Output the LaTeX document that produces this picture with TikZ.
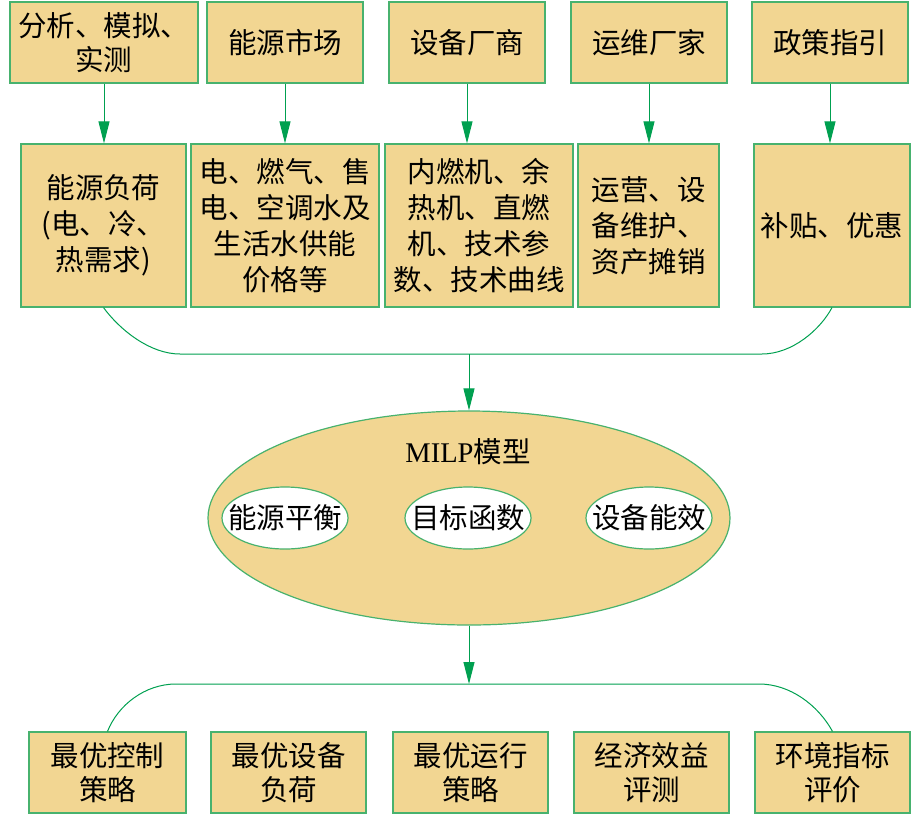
\documentclass[tikz,border=0pt]{standalone}
\usepackage{fontspec}
\setmainfont{Noto Sans CJK SC}
\newfontfamily\latf{Liberation Serif}
\usetikzlibrary{arrows.meta,shapes.geometric}
\definecolor{boxfill}{RGB}{242,214,146}
\definecolor{boxline}{RGB}{72,178,110}
\definecolor{arrowc}{RGB}{0,160,80}
\begin{document}
\begin{tikzpicture}[x=1pt,y=-1pt,
  box/.style={draw=boxline, fill=boxfill, line width=1.2pt, inner sep=0pt, align=center,
    font=\fontsize{28.5}{34}\selectfont, minimum height=81pt},
  midbox/.style={box, minimum height=163pt, font=\fontsize{28.5}{36}\selectfont},
  conn/.style={draw=arrowc, line width=1pt, -{Triangle[length=22pt,width=11pt]}},
  link/.style={draw=arrowc, line width=1pt},
  bigell/.style={ellipse, draw=boxline, fill=boxfill, line width=1.2pt, minimum width=522pt, minimum height=214pt, inner sep=0pt},
  smallell/.style={ellipse, draw=boxline, fill=white, line width=1.2pt, minimum width=126pt, minimum height=62pt, inner sep=0pt},
  elltext/.style={inner sep=0pt, font=\fontsize{28.5}{34}\selectfont}
]
\useasboundingbox (0,0) rectangle (922,815);

% top row
\node[box, minimum width=188pt] (a1) at (104,42.5) {分析、模拟、\\实测};
\node[box, minimum width=156pt] (a2) at (285,42.5) {能源市场};
\node[box, minimum width=156pt] (a3) at (467,42.5) {设备厂商};
\node[box, minimum width=156pt] (a4) at (649,42.5) {运维厂家};
\node[box, minimum width=156pt] (a5) at (830,42.5) {政策指引};

% second row
\node[midbox, minimum width=165pt] (b1) at (103.5,225.5) {能源负荷\\(电、冷、\\热需求)};
\node[midbox, minimum width=188pt] (b2) at (285,225.5) {电、燃气、售\\电、空调水及\\生活水供能\\价格等};
\node[midbox, minimum width=188pt] (b3) at (479,225.5) {内燃机、余\\热机、直燃\\机、技术参\\数、技术曲线};
\node[midbox, minimum width=141pt, align=left] (b4) at (648.5,225.5) {运营、设\\备维护、\\资产摊销};
\node[midbox, minimum width=156pt] (b5) at (832,225.5) {补贴、优惠};

% arrows top -> second
\foreach \i in {1,...,5}{
  \draw[conn] (a\i.south) -- (a\i.south |- b\i.north);
}

% collector
\coordinate (tl) at (180,354);
\coordinate (tr) at (762,354);
\coordinate (tj) at (469,354);
\draw[link] (b1.south) .. controls (120,330) and (150,354) .. (tl) -- (tr)
  .. controls (792,354) and (820,330) .. (b5.south);

% MILP ellipse
\node[bigell] (ell) at (469,518) {};
\node[font=\fontsize{28.5}{34}\selectfont] (milp) at (468,452) {{\latf MILP}模型};
\node[smallell] (e1) at (285,518) {};
\node[smallell] (e2) at (468,518) {};
\node[smallell] (e3) at (649,518) {};
\node[elltext] (t1) at (e1) {能源平衡};
\node[elltext] (t2) at (e2) {目标函数};
\node[elltext] (t3) at (e3) {设备能效};

\draw[conn] (tj) -- (ell.north);

% bottom row
\node[box, minimum width=157pt] (c1) at (107.5,772.5) {最优控制\\策略};
\node[box, minimum width=155pt] (c2) at (288.5,772.5) {最优设备\\负荷};
\node[box, minimum width=155pt] (c3) at (470.5,772.5) {最优运行\\策略};
\node[box, minimum width=155pt] (c4) at (651.5,772.5) {经济效益\\评测};
\node[box, minimum width=155pt] (c5) at (832.5,772.5) {环境指标\\评价};

\coordinate (bl) at (176,684);
\coordinate (br) at (759,684);
\coordinate (bj) at (469,684);
\draw[conn] (ell.south) -- (bj);
\draw[link] (c1.north) .. controls (118,705) and (145,684) .. (bl) -- (br)
  .. controls (790,684) and (818,705) .. (c5.north);
\end{tikzpicture}
\end{document}
